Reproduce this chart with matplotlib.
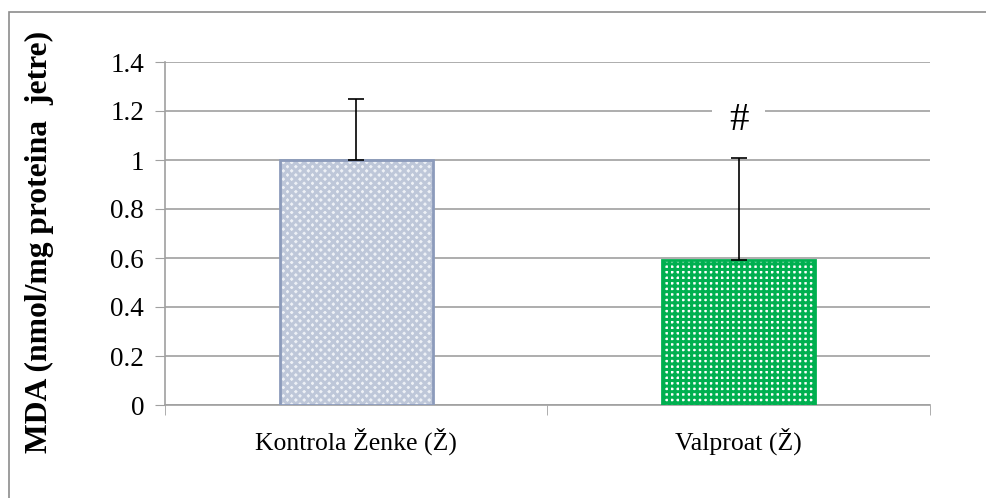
import matplotlib
matplotlib.use("Agg")
import matplotlib.pyplot as plt
from matplotlib.patches import Rectangle

categories = ["Kontrola Ženke (Ž)", "Valproat (Ž)"]
values = [1.0, 0.59]
errors_up = [0.25, 0.42]
face_colors = ["#EEF1F6", "white"]
edge_colors = ["#8C9BBB", "#00B050"]
hatches = ["xxxx", "+++"]
hatch_colors = ["#BEC7D9", "#00B050"]
y_ticks = [0, 0.2, 0.4, 0.6, 0.8, 1.0, 1.2, 1.4]
y_tick_labels = ["0", "0.2", "0.4", "0.6", "0.8", "1", "1.2", "1.4"]

plt.rcParams["font.family"] = ["Liberation Serif", "DejaVu Serif"]
plt.rcParams["hatch.linewidth"] = 2.2

fig = plt.figure(figsize=(9.87, 4.98), dpi=100)
ax = fig.add_axes([165 / 987, 1 - 405 / 498, (930 - 165) / 987, (405 - 62) / 498])

x = list(range(len(categories)))
ax.bar(x, values, width=0.4, color=face_colors, linewidth=0, zorder=3)
for xi, v, hc, h in zip(x, values, hatch_colors, hatches):
    ax.bar(xi, v, width=0.4, fill=False, hatch=h, edgecolor=hc, linewidth=0, zorder=4)
ax.bar(x, values, width=0.4, fill=False, edgecolor=edge_colors, linewidth=2, zorder=5)

ax.errorbar(x, values, yerr=[[0, 0], errors_up], fmt="none", ecolor="black",
            elinewidth=1.2, capsize=6, capthick=1.2, zorder=6)

ax.text(1, 1.16, "#", ha="center", va="center", fontsize=28, zorder=7,
        bbox=dict(facecolor="white", edgecolor="none", pad=12))

ax.set_xlim(-0.5, 1.5)
ax.set_ylim(0, 1.4)
ax.set_yticks(y_ticks)
ax.set_yticklabels(y_tick_labels, fontsize=19.5)
ax.set_xticks(x)
ax.set_xticklabels(categories, fontsize=18.5)
ax.tick_params(axis="x", length=0, pad=16)
ax.set_xticks([-0.5, 0.5, 1.5], minor=True)
ax.tick_params(axis="x", which="minor", length=7, color="#A0A0A0", direction="out")
ax.tick_params(axis="y", length=7, color="#A0A0A0", direction="out", pad=8)
ax.yaxis.grid(True, color="#A0A0A0", linewidth=1.2, zorder=0)
ax.set_axisbelow(True)
for s in ["top", "right"]:
    ax.spines[s].set_visible(False)
for s in ["left", "bottom"]:
    ax.spines[s].set_color("#A0A0A0")
    ax.spines[s].set_linewidth(1.2)

ax.set_ylabel("MDA (nmol/mg proteina  jetre)", fontsize=22.8, fontweight="bold")
ax.yaxis.set_label_coords(-111 / 765, 0.475)

border = Rectangle((9 / 987, -0.1), 1.2, 1 - 12 / 498 + 0.1, transform=fig.transFigure,
                   fill=False, edgecolor="#8C8C8C", linewidth=1.2)
fig.patches.append(border)

fig.savefig("out.png", dpi=100)
